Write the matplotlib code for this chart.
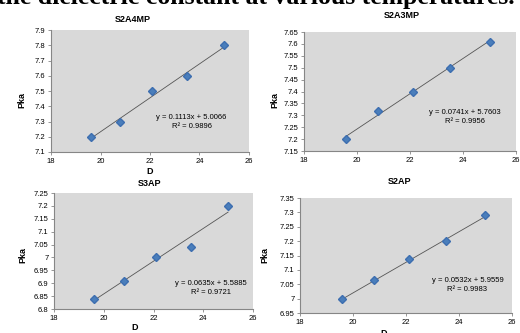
import numpy as np
import matplotlib
matplotlib.use("Agg")
import matplotlib.pyplot as plt

# dielectric constant D (same for all four compounds)
D = [19.6, 20.8, 22.1, 23.5, 25.0]

# pKa values
pka_s2a4mp = [7.2, 7.3, 7.5, 7.6, 7.8]
pka_s2a3mp = [7.2, 7.32, 7.4, 7.5, 7.61]
pka_s3ap = [6.84, 6.91, 7.0, 7.04, 7.2]
pka_s2ap = [7.0, 7.065, 7.138, 7.2, 7.29]

# trendline coefficients as printed on the chart (slope, intercept, R2)
fit_s2a4mp = (0.1113, 5.0066, 0.9896)
fit_s2a3mp = (0.0741, 5.7603, 0.9956)
fit_s3ap = (0.0635, 5.5885, 0.9721)
fit_s2ap = (0.0532, 5.9559, 0.9983)

ylim_s2a4mp = (7.1, 7.9, 0.1)
ylim_s2a3mp = (7.15, 7.65, 0.05)
ylim_s3ap = (6.8, 7.25, 0.05)
ylim_s2ap = (6.95, 7.35, 0.05)

plt.rcParams['font.family'] = ['Liberation Sans', 'DejaVu Sans']

W, H = 520, 333
fig = plt.figure(figsize=(5.2, 3.33), dpi=100)

# cut-off caption line at the top of the scan
fig.text(-0.005, 1 - 4 / H, "the dielectric constant at various temperatures.",
         fontsize=18.5, fontweight='bold', family='Liberation Serif',
         ha='left', va='baseline')


def panel(box, title, y, fit, lims, eq_pos, title_px, ylab_px, xlab_px):
    l, t, r, b = box
    ax = fig.add_axes([l / W, 1 - b / H, (r - l) / W, (b - t) / H])
    ax.set_facecolor('#d9d9d9')
    lo, hi, step = lims
    ax.set_xlim(18, 26)
    ax.set_ylim(lo, hi)
    ax.set_xticks(np.arange(18, 27, 2))
    yt = np.arange(lo, hi + step / 2, step)
    ax.set_yticks(yt)
    ax.set_yticklabels(['%g' % round(v, 2) for v in yt])
    for s in ['top', 'right']:
        ax.spines[s].set_visible(False)
    for s in ['left', 'bottom']:
        ax.spines[s].set_color('#868686')
        ax.spines[s].set_linewidth(0.8)
    ax.tick_params(labelsize=5.5, length=2, width=0.6, color='#868686', pad=2)

    k, c, r2 = fit
    xs = np.array([min(D), max(D)])
    ax.plot(xs, k * xs + c, color='#555555', lw=0.6, zorder=2)
    ax.plot(D, y, 'D', color='#4a7ebb', ms=4, mec='#3d6eb0', zorder=3)

    ex, ey = eq_pos
    ax.text(ex, ey, "y = %gx + %.4f" % (k, c), transform=ax.transAxes,
            ha='center', va='center', fontsize=5.5)
    ax.text(ex, ey - 0.075, "R² = %.4f" % r2, transform=ax.transAxes,
            ha='center', va='center', fontsize=5.5)

    fig.text(title_px[0] / W, 1 - title_px[1] / H, title, fontsize=6.5,
             fontweight='bold', ha='center', va='center')
    fig.text(ylab_px[0] / W, 1 - ylab_px[1] / H, "Pka", fontsize=6.5,
             fontweight='bold', ha='center', va='center', rotation=90)
    if xlab_px is not None:
        fig.text(xlab_px[0] / W, 1 - xlab_px[1] / H, "D", fontsize=6.5,
                 fontweight='bold', ha='center', va='center')
    return ax


panel((51, 30, 249, 152), "S2A4MP", pka_s2a4mp, fit_s2a4mp, ylim_s2a4mp,
      (0.71, 0.28), (133, 20), (22, 100), (150, 172))
panel((304, 32, 516, 151), "S2A3MP", pka_s2a3mp, fit_s2a3mp, ylim_s2a3mp,
      (0.76, 0.32), (402, 16), (275, 100), None)
panel((54, 193, 253, 309), "S3AP", pka_s3ap, fit_s3ap, ylim_s3ap,
      (0.79, 0.22), (150, 183), (23, 255), (135, 328))
panel((300, 198, 512, 313), "S2AP", pka_s2ap, fit_s2ap, ylim_s2ap,
      (0.79, 0.28), (400, 182), (265, 255), (384, 334))

fig.savefig("out.png", dpi=100)
